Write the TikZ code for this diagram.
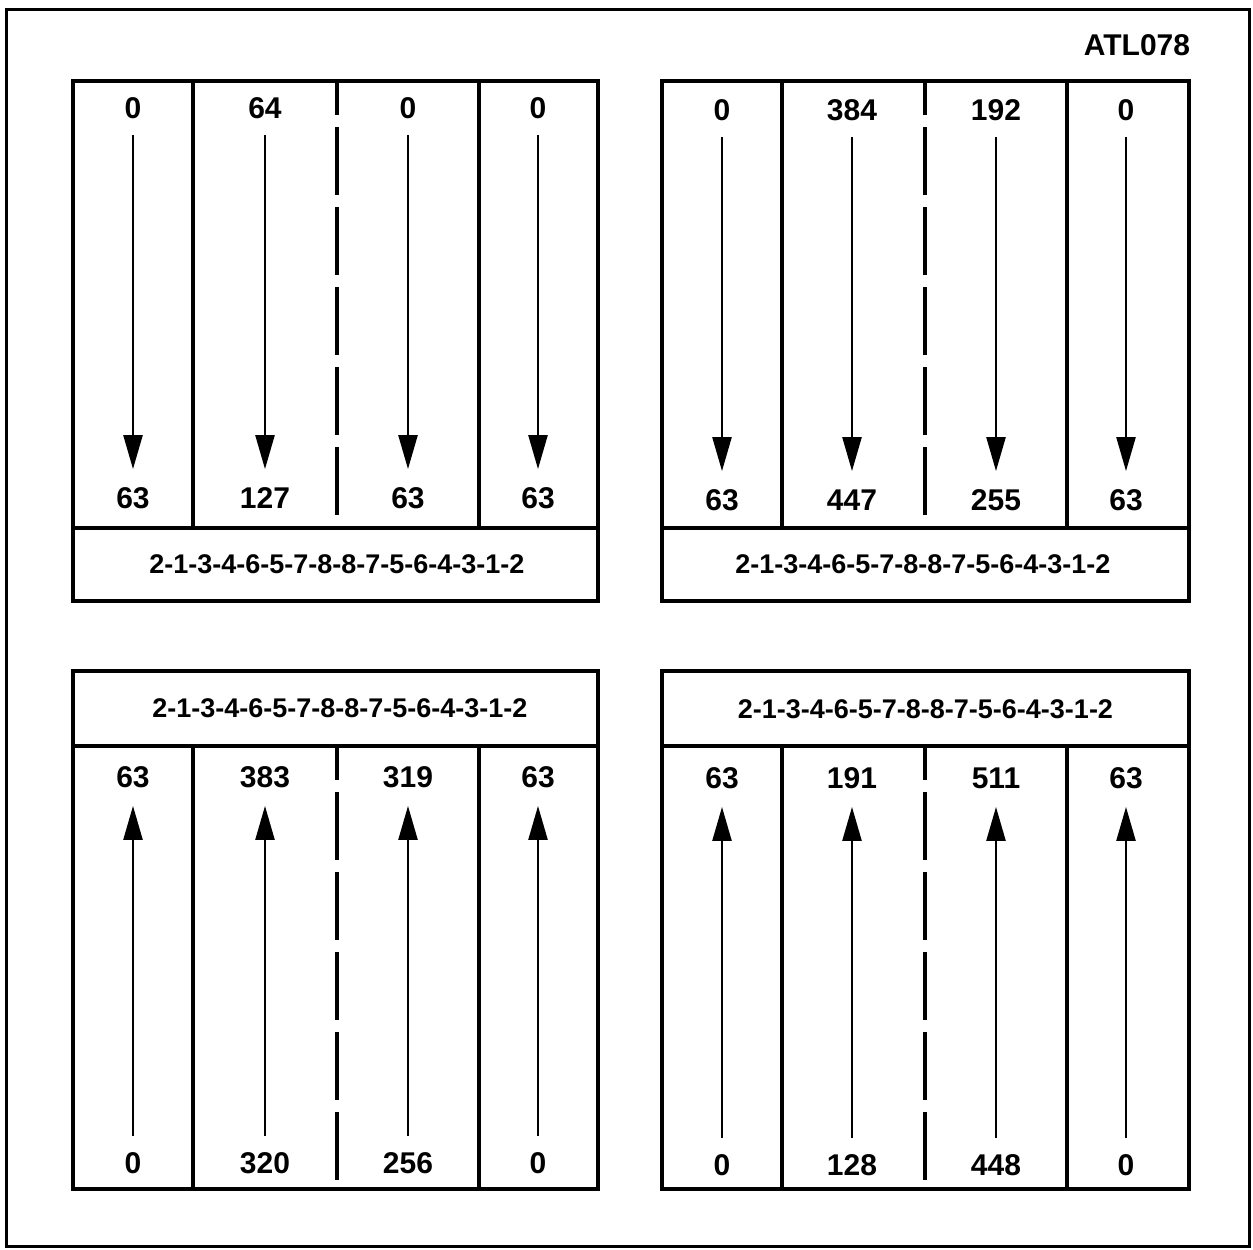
\documentclass[tikz,border=0pt]{standalone}
\usepackage{fontspec}
\setmainfont{Liberation Sans}
\usetikzlibrary{arrows.meta}
\newcommand{\SeqText}{2-1-3-4-6-5-7-8-8-7-5-6-4-3-1-2}

\begin{document}
\begin{tikzpicture}[
  x=0.5pt, y=-0.5pt,
  frame/.style={line width=2pt},
  divider/.style={line width=1.6pt},
  split/.style={line width=1.6pt, dash pattern=on 34pt off 6pt, dash phase=17pt},
  num/.style={font=\fontsize{15}{17}\selectfont\bfseries, inner sep=0pt, text height=10.5pt, text depth=0pt},
  seq/.style={font=\fontsize{13.5}{15}\selectfont\bfseries, inner sep=0pt},
  flow/.style={-{Triangle[length=17pt,width=9.5pt]}, line width=1.2pt, shorten <=8pt, shorten >=9pt}
]
\useasboundingbox (0,0) rectangle (1253,1249);
\draw[line width=1.5pt] (6,9) rectangle (1249,1246);
\node[num] (tag) at (1137,45) {ATL078};

% top left
\draw[frame] (73,81) rectangle (598,601);
\draw[frame] (73,528) -- (598,528);
\draw[divider] (193,81) -- (193,528);
\draw[split] (337,81) -- (337,528);
\draw[divider] (479,81) -- (479,528);
\node[seq] (tlseq) at (337,564) {\SeqText};
\foreach \x/\a/\b [count=\i] in {133/0/63, 265/64/127, 408/0/63, 538/0/63}{
  \node[num] (tlin\i) at (\x,108) {\a};
  \node[num] (tlout\i) at (\x,498) {\b};
  \draw[flow] (tlin\i) -- (tlout\i);
}

% top right
\draw[frame] (662,81) rectangle (1189,601);
\draw[frame] (662,528) -- (1189,528);
\draw[divider] (782,81) -- (782,528);
\draw[split] (925,81) -- (925,528);
\draw[divider] (1067,81) -- (1067,528);
\node[seq] (trseq) at (923,564) {\SeqText};
\foreach \x/\a/\b [count=\i] in {722/0/63, 852/384/447, 996/192/255, 1126/0/63}{
  \node[num] (trin\i) at (\x,110) {\a};
  \node[num] (trout\i) at (\x,500) {\b};
  \draw[flow] (trin\i) -- (trout\i);
}

% bottom left
\draw[frame] (73,671) rectangle (598,1189);
\draw[frame] (73,746) -- (598,746);
\draw[divider] (193,746) -- (193,1189);
\draw[split] (337,746) -- (337,1189);
\draw[divider] (479,746) -- (479,1189);
\node[seq] (blseq) at (340,708) {\SeqText};
\foreach \x/\a/\b [count=\i] in {133/0/63, 265/320/383, 408/256/319, 538/0/63}{
  \node[num] (blin\i) at (\x,1163) {\a};
  \node[num] (blout\i) at (\x,777) {\b};
  \draw[flow] (blin\i) -- (blout\i);
}

% bottom right
\draw[frame] (662,671) rectangle (1189,1189);
\draw[frame] (662,746) -- (1189,746);
\draw[divider] (782,746) -- (782,1189);
\draw[split] (925,746) -- (925,1189);
\draw[divider] (1067,746) -- (1067,1189);
\node[seq] (brseq) at (925.5,709) {\SeqText};
\foreach \x/\a/\b [count=\i] in {722/0/63, 852/128/191, 996/448/511, 1126/0/63}{
  \node[num] (brin\i) at (\x,1165) {\a};
  \node[num] (brout\i) at (\x,778) {\b};
  \draw[flow] (brin\i) -- (brout\i);
}
\end{tikzpicture}
\end{document}
